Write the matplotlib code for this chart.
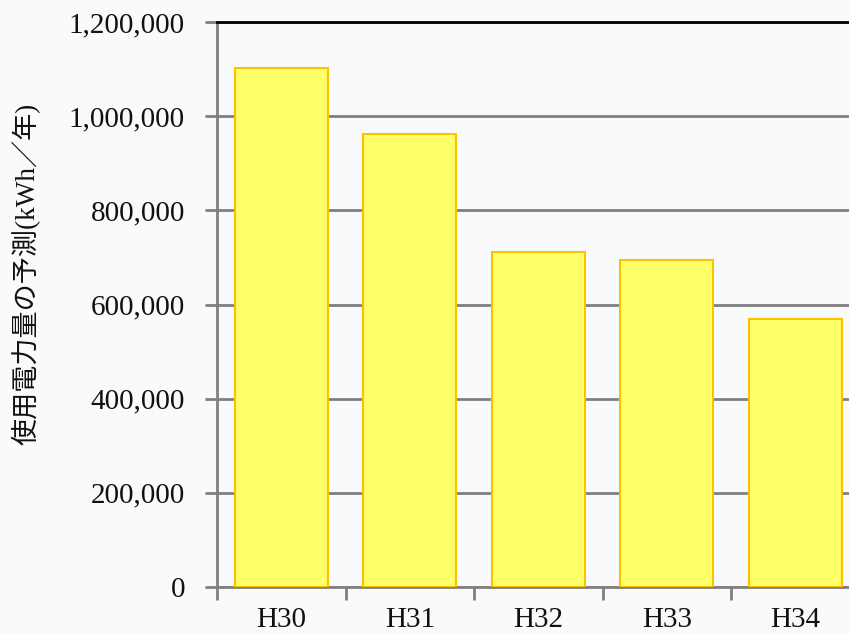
import numpy as np
import matplotlib
matplotlib.use("Agg")
from matplotlib import pyplot as plt
from matplotlib.ticker import FuncFormatter

categories = ["H30", "H31", "H32", "H33", "H34"]
usage_kwh = [1102000, 962000, 711000, 694000, 569000]

SERIF = ["Liberation Serif", "Noto Sans CJK JP"]
BG = "#f9fafc"

fig = plt.figure(figsize=(8.49, 6.34), dpi=100, facecolor=BG)
ax = fig.add_axes([217 / 849, 1 - 587 / 634, 642.5 / 849, 565 / 634], facecolor=BG)

x = np.arange(len(categories))
ax.bar(x, usage_kwh, width=0.72, color="#ffff66", edgecolor="#ffc000", linewidth=1.5, zorder=3)

ax.set_xlim(-0.5, len(categories) - 0.5)
ax.set_ylim(0, 1200000)
ax.set_yticks(np.arange(0, 1200001, 200000))
ax.yaxis.set_major_formatter(FuncFormatter(lambda v, p: f"{int(v):,}"))
ax.set_xticks(x)
ax.set_xticklabels(categories)
ax.set_xticks(np.arange(-0.5, len(categories), 1.0), minor=True)
ax.tick_params(axis="x", which="major", length=0, pad=14.5)
ax.tick_params(axis="x", which="minor", length=9, width=2, color="#808080", direction="out")
ax.tick_params(axis="y", length=9, width=2, color="#808080", direction="out", pad=14)

for lab in ax.get_xticklabels() + ax.get_yticklabels():
    lab.set_family(SERIF)
    lab.set_fontsize(21)
    lab.set_color("#111111")

ax.grid(axis="y", color="#808080", linewidth=2, zorder=0)
ax.set_axisbelow(True)

ax.spines["top"].set_color("#000000")
ax.spines["top"].set_linewidth(2)
ax.spines["right"].set_visible(False)
ax.spines["left"].set_color("#808080")
ax.spines["left"].set_linewidth(2)
ax.spines["bottom"].set_color("#808080")
ax.spines["bottom"].set_linewidth(2)

ax.set_ylabel("使用電力量の予測(kWh／年)", family=SERIF, fontsize=19.5, color="#111111")
ax.yaxis.set_label_coords(-(217 - 41) / 642.5, (587 - 274) / 565)

fig.savefig("out.png", dpi=100, facecolor=BG)
